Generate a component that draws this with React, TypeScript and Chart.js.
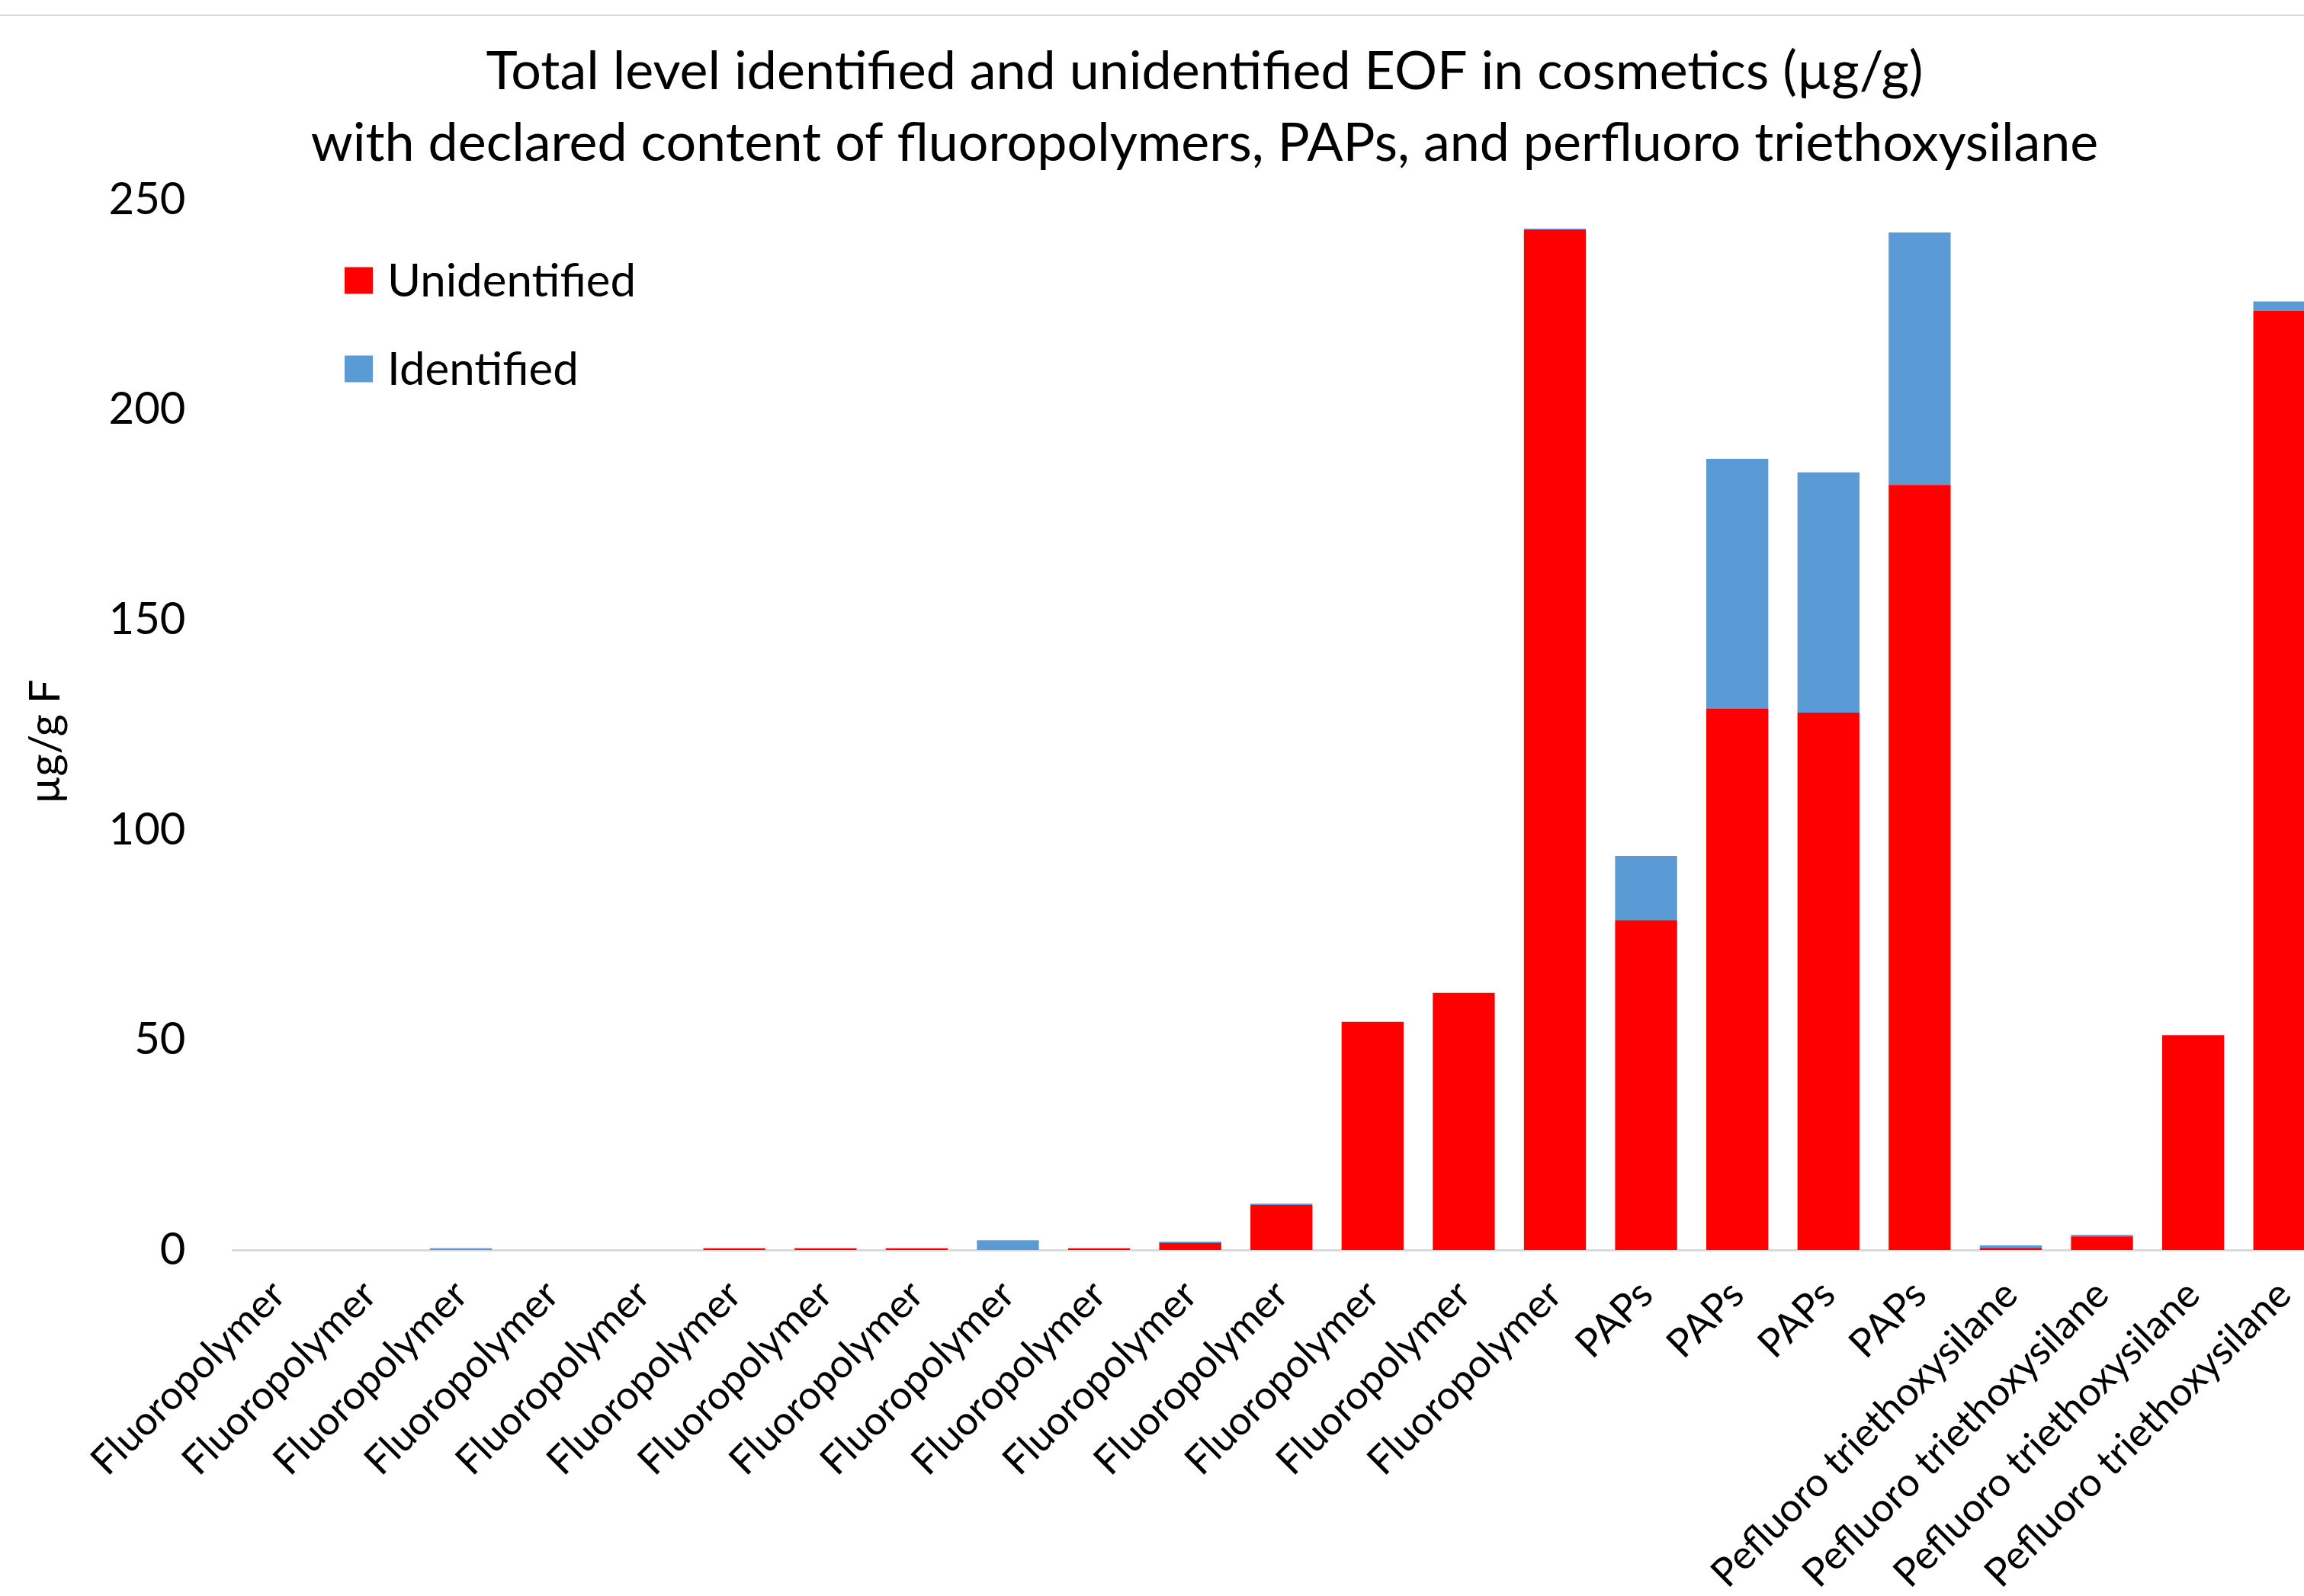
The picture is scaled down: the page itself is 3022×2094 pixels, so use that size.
import React, { useEffect, useRef } from 'react';
import { Chart, registerables } from 'chart.js';

Chart.register(...registerables);

const categories = [
  'Fluoropolymer', 'Fluoropolymer', 'Fluoropolymer', 'Fluoropolymer', 'Fluoropolymer',
  'Fluoropolymer', 'Fluoropolymer', 'Fluoropolymer', 'Fluoropolymer', 'Fluoropolymer',
  'Fluoropolymer', 'Fluoropolymer', 'Fluoropolymer', 'Fluoropolymer', 'Fluoropolymer',
  'PAPs', 'PAPs', 'PAPs', 'PAPs',
  'Pefluoro triethoxysilane', 'Pefluoro triethoxysilane', 'Pefluoro triethoxysilane', 'Pefluoro triethoxysilane',
];

const unidentified = [0, 0, 0, 0, 0, 0.4, 0.4, 0.4, 0, 0.4, 1.65, 10.7, 54.3, 61.2, 242.9, 78.5, 128.9, 127.9, 182.1, 0.5, 3.2, 51.1, 223.5];
const identified = [0, 0, 0.4, 0, 0, 0, 0, 0, 2.3, 0, 0.35, 0.3, 0, 0, 0.2, 15.3, 59.4, 57.2, 60.1, 0.6, 0.4, 0, 2.3];

const yTicks = [0, 50, 100, 150, 200, 250];

const titleLines = [
  'Total level identified and unidentified EOF in cosmetics (µg/g)',
  'with declared content of fluoropolymers, PAPs, and perfluoro triethoxysilane',
];
const yTitle = 'µg/g F';

const FONT = 'Lato';

const sideLegend = {
  id: 'sideLegend',
  afterDraw(chart: any) {
    const ctx = chart.ctx;
    ctx.save();
    ctx.font = `60px ${FONT}`;
    ctx.textBaseline = 'middle';
    ctx.textAlign = 'left';
    chart.data.datasets.forEach((ds: any, i: number) => {
      const yc = 368 + i * 116;
      ctx.fillStyle = ds.backgroundColor;
      ctx.fillRect(452, yc - 17.5, 37, 35);
      ctx.fillStyle = '#000';
      ctx.fillText(ds.label, 508, yc + 2);
    });
    ctx.restore();
  },
};

const yAxisTitle = {
  id: 'yAxisTitle',
  afterDraw(chart: any) {
    const ctx = chart.ctx;
    ctx.save();
    ctx.translate(60, 973);
    ctx.rotate(-Math.PI / 2);
    ctx.font = `56px ${FONT}`;
    ctx.fillStyle = '#000';
    ctx.textAlign = 'center';
    ctx.textBaseline = 'middle';
    ctx.fillText(yTitle, 0, 0);
    ctx.restore();
  },
};

export default function App() {
  const ref = useRef<HTMLCanvasElement>(null);
  useEffect(() => {
    const chart = new Chart(ref.current as HTMLCanvasElement, {
      type: 'bar',
      data: {
        labels: categories,
        datasets: [
          { label: 'Unidentified', data: unidentified, backgroundColor: '#FF0000', stack: 's', categoryPercentage: 1, barPercentage: 0.68 },
          { label: 'Identified', data: identified, backgroundColor: '#5B9BD5', stack: 's', categoryPercentage: 1, barPercentage: 0.68 },
        ],
      },
      options: {
        responsive: false,
        animation: false,
        devicePixelRatio: 1,
        layout: { padding: 0 },
        plugins: {
          legend: { display: false },
          tooltip: { enabled: false },
          title: {
            display: true,
            text: titleLines,
            color: '#000',
            font: { family: FONT, size: 70, weight: 'normal', lineHeight: 1.343 },
            padding: { top: 47, bottom: 27 },
          },
        },
        scales: {
          x: {
            stacked: true,
            grid: { display: false },
            border: { display: true, color: '#d9d9d9', width: 3 },
            ticks: {
              autoSkip: false,
              maxRotation: 45,
              minRotation: 45,
              color: '#000',
              font: { family: FONT, size: 52 },
              padding: 20,
            },
            afterFit: (s: any) => { s.height = 454; },
          },
          y: {
            stacked: true,
            min: 0,
            max: 250,
            grid: { display: false },
            border: { display: false },
            afterBuildTicks: (s: any) => { s.ticks = yTicks.map((v) => ({ value: v })); },
            ticks: {
              color: '#000',
              font: { family: FONT, size: 58 },
              padding: 54,
            },
            afterFit: (s: any) => { s.width = 305.5; },
          },
          yRight: {
            position: 'right',
            display: true,
            grid: { display: false },
            border: { display: false },
            ticks: { display: false },
            afterFit: (s: any) => { s.width = 104; },
          },
        },
      } as any,
      plugins: [sideLegend, yAxisTitle],
    });
    return () => chart.destroy();
  }, []);

  return (
    <div style={{ position: 'fixed', left: 0, top: 0, width: 3022, height: 2094, overflow: 'hidden', background: '#fff' }}>
      <canvas ref={ref} width={3160} height={2094} style={{ position: 'absolute', left: 0, top: 0, width: 3160, height: 2094 }} />
      <div style={{ position: 'absolute', left: 0, top: 19, width: 3022, height: 2, background: '#d9d9d9' }} />
    </div>
  );
}
